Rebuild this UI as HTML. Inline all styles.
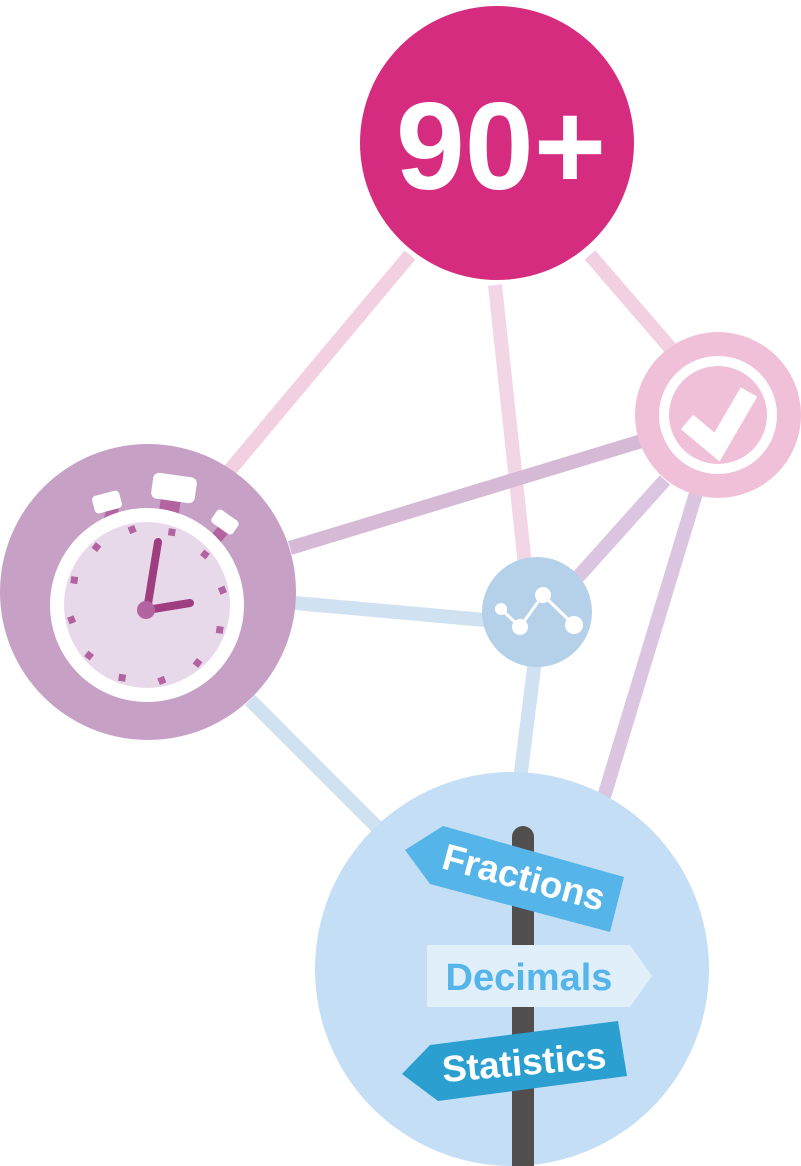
<!DOCTYPE html>
<html><head><style>
html,body{margin:0;padding:0;background:#fff;}
svg{display:block;}
</style></head><body>
<svg width="801" height="1166" viewBox="0 0 801 1166" xmlns="http://www.w3.org/2000/svg">
<g stroke-width="14" stroke-linecap="butt">
<line x1="410" y1="255" x2="230" y2="470" stroke="#f2cfe1"/>
<line x1="495" y1="285" x2="525" y2="565" stroke="#f2d6e6"/>
<line x1="590" y1="255" x2="672" y2="350" stroke="#f2cfe1"/>
<line x1="645" y1="440" x2="290" y2="548" stroke="#d6b9d5"/>
<line x1="665" y1="480" x2="578" y2="577" stroke="#dcc5e0"/>
<line x1="697" y1="490" x2="603" y2="800" stroke="#dcc5e0"/>
<line x1="295" y1="603" x2="485" y2="620" stroke="#d0e2f1"/>
<line x1="250" y1="700" x2="385" y2="835" stroke="#d0e2f1"/>
<line x1="535" y1="660" x2="520" y2="780" stroke="#d0e2f1"/>
</g>
<!-- 90+ -->
<circle cx="497" cy="143" r="137" fill="#d62c80"/>
<text x="501" y="189" font-family="Liberation Sans, sans-serif" font-weight="bold" font-size="124" fill="#fff" text-anchor="middle">90+</text>
<!-- check -->
<circle cx="718" cy="415" r="83" fill="#f0c0d8"/>
<circle cx="718" cy="415" r="54" fill="none" stroke="#fff" stroke-width="10"/>
<polyline points="687,422 717,447 749,392" fill="none" stroke="#fff" stroke-width="19" stroke-linejoin="miter"/>
<!-- chart -->
<circle cx="537" cy="612" r="55" fill="#b5d1ea"/>
<polyline points="501,609 520,627 543,595 574,625" fill="none" stroke="#fff" stroke-width="3"/>
<circle cx="501" cy="609" r="6" fill="#fff"/>
<circle cx="520" cy="627" r="8" fill="#fff"/>
<circle cx="543" cy="595" r="8" fill="#fff"/>
<circle cx="574" cy="625" r="9" fill="#fff"/>
<!-- clock -->
<circle cx="148" cy="592" r="148" fill="#c7a0c6"/>
<g fill="#b263a0">
<rect x="105" y="505" width="12" height="20" transform="rotate(15 111 515)"/>
<rect x="160" y="495" width="20" height="20" transform="rotate(8 170 505)"/>
<rect x="213" y="525" width="12" height="20" transform="rotate(40 219 535)"/>
</g>
<g fill="#fff">
<rect x="93" y="493" width="28" height="18" rx="4" transform="rotate(-15 107 502)"/>
<rect x="152" y="475" width="44" height="26" rx="6" transform="rotate(8 174 488)"/>
<rect x="212" y="514" width="26" height="16" rx="4" transform="rotate(35 225 522)"/>
</g>
<circle cx="147" cy="605" r="97" fill="#fff"/>
<circle cx="147" cy="605" r="83" fill="#e8d9ea"/>
<g fill="#b263a0">
<g id="t"><rect x="158" y="526" width="7" height="7" transform="rotate(8 147 605)"/></g>
<use href="#t" transform="rotate(30 147 605)"/>
<use href="#t" transform="rotate(60 147 605)"/>
<use href="#t" transform="rotate(90 147 605)"/>
<use href="#t" transform="rotate(120 147 605)"/>
<use href="#t" transform="rotate(150 147 605)"/>
<use href="#t" transform="rotate(180 147 605)"/>
<use href="#t" transform="rotate(210 147 605)"/>
<use href="#t" transform="rotate(240 147 605)"/>
<use href="#t" transform="rotate(270 147 605)"/>
<use href="#t" transform="rotate(300 147 605)"/>
<use href="#t" transform="rotate(330 147 605)"/>
</g>
<g stroke="#9e3d80" stroke-width="8" stroke-linecap="round">
<line x1="147" y1="610" x2="158" y2="542"/>
<line x1="147" y1="610" x2="190" y2="603"/>
</g>
<circle cx="146" cy="610" r="9" fill="#b263a0"/>
<!-- bottom -->
<circle cx="512" cy="969" r="197" fill="#c4def5"/>
<rect x="512" y="826" width="22" height="350" rx="11" fill="#524e4d"/>
<polygon points="405,850 443,826 624,877 610,932 430,884" fill="#55b4e8"/>
<text x="524" y="890" font-family="Liberation Sans, sans-serif" font-weight="bold" font-size="37" fill="#fff" text-anchor="middle" transform="rotate(15 524 877)">Fractions</text>
<polygon points="427,945 630,945 652,976 630,1007 427,1007" fill="#e1effb"/>
<text x="529" y="990" font-family="Liberation Sans, sans-serif" font-weight="bold" font-size="38" fill="#55b4e8" text-anchor="middle">Decimals</text>
<polygon points="402,1074 430,1045 618,1021 627,1076 438,1101" fill="#2a9fd0"/>
<text x="524" y="1075" font-family="Liberation Sans, sans-serif" font-weight="bold" font-size="37" fill="#fff" text-anchor="middle" transform="rotate(-5 524 1062)">Statistics</text>
</svg>
</body></html>
